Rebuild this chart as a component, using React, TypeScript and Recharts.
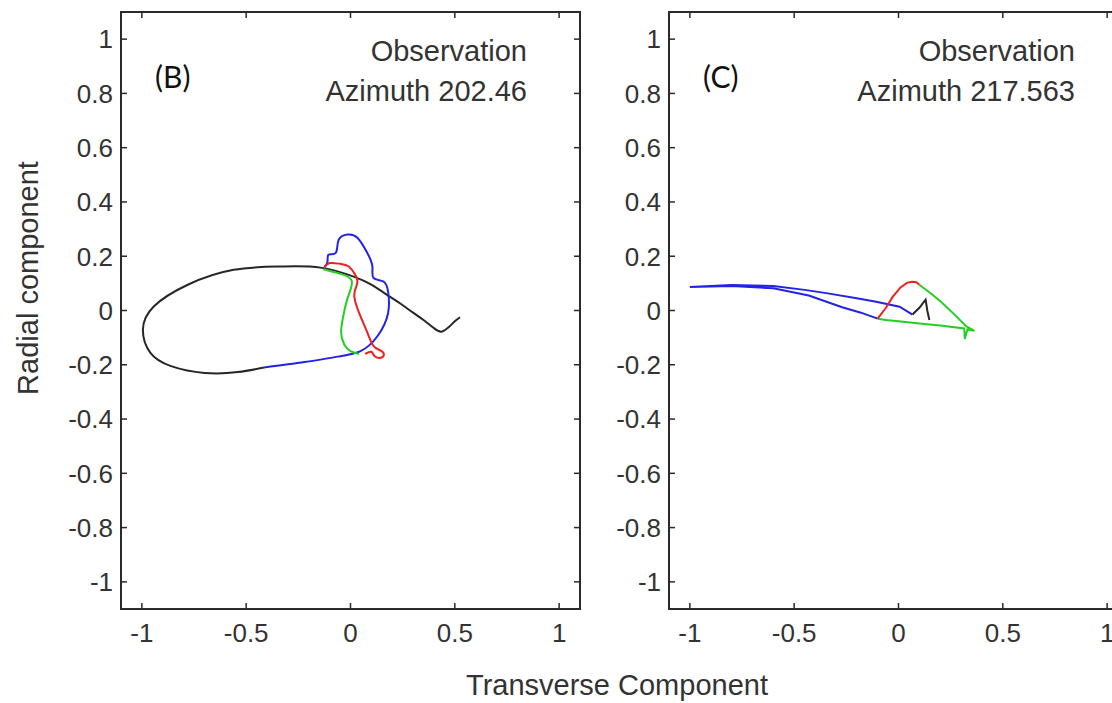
import React from 'react';
import { ComposedChart, Line, XAxis, YAxis, ReferenceArea } from 'recharts';

// tick values shared by both panels
const X_TICKS = [-1, -0.5, 0, 0.5, 1];
const Y_TICKS = [1, 0.8, 0.6, 0.4, 0.2, 0, -0.2, -0.4, -0.6, -0.8, -1];

// particle motion traces, [transverse, radial]
const B_BLACK: [number, number][] = [
  [0.525, -0.025], [0.5, -0.04], [0.47, -0.062], [0.435, -0.078], [0.4, -0.065],
  [0.35, -0.035], [0.3, -0.008], [0.24, 0.025], [0.19, 0.05], [0.1, 0.095],
  [0.015, 0.125], [-0.144, 0.158], [-0.335, 0.162], [-0.56, 0.15], [-0.78, 0.095],
  [-0.943, 0.015], [-0.995, -0.07], [-0.96, -0.155], [-0.86, -0.205], [-0.7, -0.23],
  [-0.54, -0.227], [-0.415, -0.21],
];
const B_BLUE: [number, number][] = [
  [-0.415, -0.21], [-0.22, -0.19], [-0.06, -0.17], [0.048, -0.15], [0.129, -0.095],
  [0.18, -0.01], [0.18, 0.07], [0.157, 0.107], [0.11, 0.12], [0.105, 0.162],
  [0.08, 0.213], [0.033, 0.268], [-0.014, 0.28], [-0.057, 0.26], [-0.07, 0.213],
  [-0.105, 0.206], [-0.11, 0.18], [-0.125, 0.16],
];
const B_RED: [number, number][] = [
  [-0.125, 0.16], [-0.1, 0.175], [-0.05, 0.172], [-0.01, 0.163], [0.02, 0.135],
  [0.033, 0.105], [0.02, 0.07], [0.022, 0.035], [0.048, -0.022], [0.08, -0.08],
  [0.11, -0.13], [0.145, -0.148], [0.16, -0.162], [0.145, -0.174], [0.115, -0.168],
  [0.1, -0.152], [0.07, -0.16],
];
const B_GREEN: [number, number][] = [
  [-0.13, 0.152], [-0.062, 0.138], [0.005, 0.112], [-0.012, 0.05], [-0.035, -0.022],
  [-0.045, -0.08], [-0.03, -0.125], [0, -0.15], [0.04, -0.16],
];

const C_BLUE: [number, number][] = [
  [-0.1, -0.03], [-0.18, -0.008], [-0.27, 0.012], [-0.43, 0.055], [-0.6, 0.082],
  [-0.8, 0.09], [-1.0, 0.087], [-0.8, 0.094], [-0.6, 0.09], [-0.45, 0.076],
  [-0.346, 0.064], [-0.2, 0.045], [-0.107, 0.032], [0.005, 0.014], [0.067, -0.015],
];
const C_BLACK: [number, number][] = [
  [0.067, -0.015], [0.1, 0.01], [0.13, 0.04], [0.138, 0], [0.148, -0.035],
];
const C_RED: [number, number][] = [
  [-0.1, -0.03], [-0.06, 0.01], [-0.028, 0.05], [0.01, 0.085], [0.04, 0.102],
  [0.065, 0.106], [0.085, 0.104], [0.1, 0.095],
];
const C_GREEN: [number, number][] = [
  [0.1, 0.095], [0.16, 0.06], [0.21, 0.028], [0.27, -0.016], [0.324, -0.058],
  [0.364, -0.075], [0.33, -0.07], [0.318, -0.105], [0.315, -0.066], [0.2, -0.055],
  [0.1, -0.048], [0, -0.04], [-0.06, -0.035], [-0.1, -0.03],
];

const W = 600;
const H = 703;
const PLOT_LEFT = 121;
const PLOT_TOP = 12;
const PLOT_BOTTOM = 609;
const PLOT_RIGHT = 580;
const FONT = '"Liberation Sans", Arial, Helvetica, sans-serif';
const INK = '#2a2a2a';

const toPts = (arr: [number, number][]) => arr.map(([x, y]) => ({ x, y }));

const XTick = (props: any) => {
  const { x, payload } = props;
  return (
    <g>
      <line x1={x} x2={x} y1={PLOT_BOTTOM} y2={PLOT_BOTTOM - 6} stroke={INK} strokeWidth={1.5} />
      <line x1={x} x2={x} y1={PLOT_TOP} y2={PLOT_TOP + 6} stroke={INK} strokeWidth={1.5} />
      <text x={x} y={PLOT_BOTTOM + 33} textAnchor="middle" fontSize={26} fontFamily={FONT} fill="#333">
        {payload.value}
      </text>
    </g>
  );
};

const YTick = (props: any) => {
  const { y, payload } = props;
  return (
    <g>
      <line x1={PLOT_LEFT} x2={PLOT_LEFT + 6} y1={y} y2={y} stroke={INK} strokeWidth={1.5} />
      <line x1={PLOT_RIGHT} x2={PLOT_RIGHT - 6} y1={y} y2={y} stroke={INK} strokeWidth={1.5} />
      <text x={PLOT_LEFT - 8} y={y} dy="0.36em" textAnchor="end" fontSize={26} fontFamily={FONT} fill="#333">
        {payload.value}
      </text>
    </g>
  );
};

interface Trace {
  data: [number, number][];
  color: string;
  curve: 'natural' | 'linear';
}

interface PanelProps {
  left: number;
  tag: string;
  azimuth: string;
  traces: Trace[];
}

function Panel({ left, tag, azimuth, traces }: PanelProps) {
  return (
    <div style={{ position: 'absolute', left, top: 0, width: W, height: H }}>
      <ComposedChart
        width={W}
        height={H}
        margin={{ top: PLOT_TOP, right: W - PLOT_RIGHT, left: 0, bottom: H - PLOT_BOTTOM - 40 }}
      >
        <XAxis
          type="number"
          dataKey="x"
          domain={[-1.1, 1.1]}
          ticks={X_TICKS}
          interval={0}
          allowDataOverflow
          axisLine={false}
          tickLine={false}
          tick={<XTick />}
          height={40}
        />
        <YAxis
          type="number"
          dataKey="y"
          domain={[-1.1, 1.1]}
          ticks={Y_TICKS}
          interval={0}
          allowDataOverflow
          axisLine={false}
          tickLine={false}
          tick={<YTick />}
          width={PLOT_LEFT}
        />
        <ReferenceArea
          x1={-1.1}
          x2={1.1}
          y1={-1.1}
          y2={1.1}
          fill="none"
          fillOpacity={0}
          stroke={INK}
          strokeWidth={2}
          ifOverflow="visible"
        />
        {traces.map((t, i) => (
          <Line
            key={i}
            data={toPts(t.data)}
            dataKey="y"
            type={t.curve}
            stroke={t.color}
            strokeWidth={2}
            dot={false}
            activeDot={false}
            isAnimationActive={false}
          />
        ))}
      </ComposedChart>
      <svg
        width={W}
        height={H}
        style={{ position: 'absolute', left: 0, top: 0, pointerEvents: 'none' }}
      >
        <text x={PLOT_LEFT + 34} y={88} fontSize={30} fontFamily="Lato, 'Open Sans', sans-serif" fill="#111">
          {tag}
        </text>
        <text x={PLOT_LEFT + 406} y={61} textAnchor="end" fontSize={29} fontFamily={FONT} fill="#333">
          Observation
        </text>
        <text x={PLOT_LEFT + 406} y={101} textAnchor="end" fontSize={29} fontFamily={FONT} fill="#333">
          {azimuth}
        </text>
      </svg>
    </div>
  );
}

export default function App() {
  return (
    <div
      style={{
        position: 'absolute',
        left: 0,
        top: 0,
        width: 1112,
        height: 703,
        overflow: 'hidden',
        background: '#fff',
      }}
    >
      <Panel
        left={0}
        tag="(B)"
        azimuth="Azimuth 202.46"
        traces={[
          { data: B_BLACK, color: '#262626', curve: 'natural' },
          { data: B_BLUE, color: '#2323e6', curve: 'natural' },
          { data: B_GREEN, color: '#22d022', curve: 'natural' },
          { data: B_RED, color: '#ee2020', curve: 'natural' },
        ]}
      />
      <Panel
        left={548}
        tag="(C)"
        azimuth="Azimuth 217.563"
        traces={[
          { data: C_BLUE, color: '#2323e6', curve: 'linear' },
          { data: C_BLACK, color: '#262626', curve: 'linear' },
          { data: C_GREEN, color: '#22d022', curve: 'linear' },
          { data: C_RED, color: '#ee2020', curve: 'linear' },
        ]}
      />
      <svg width={1112} height={703} style={{ position: 'absolute', left: 0, top: 0, pointerEvents: 'none' }}>
        <text
          x={28}
          y={278}
          dy="0.36em"
          textAnchor="middle"
          transform="rotate(-90 28 278)"
          fontSize={29}
          fontFamily={FONT}
          fill="#333"
        >
          Radial component
        </text>
        <text x={617} y={695} textAnchor="middle" fontSize={29} fontFamily={FONT} fill="#333">
          Transverse Component
        </text>
      </svg>
    </div>
  );
}
